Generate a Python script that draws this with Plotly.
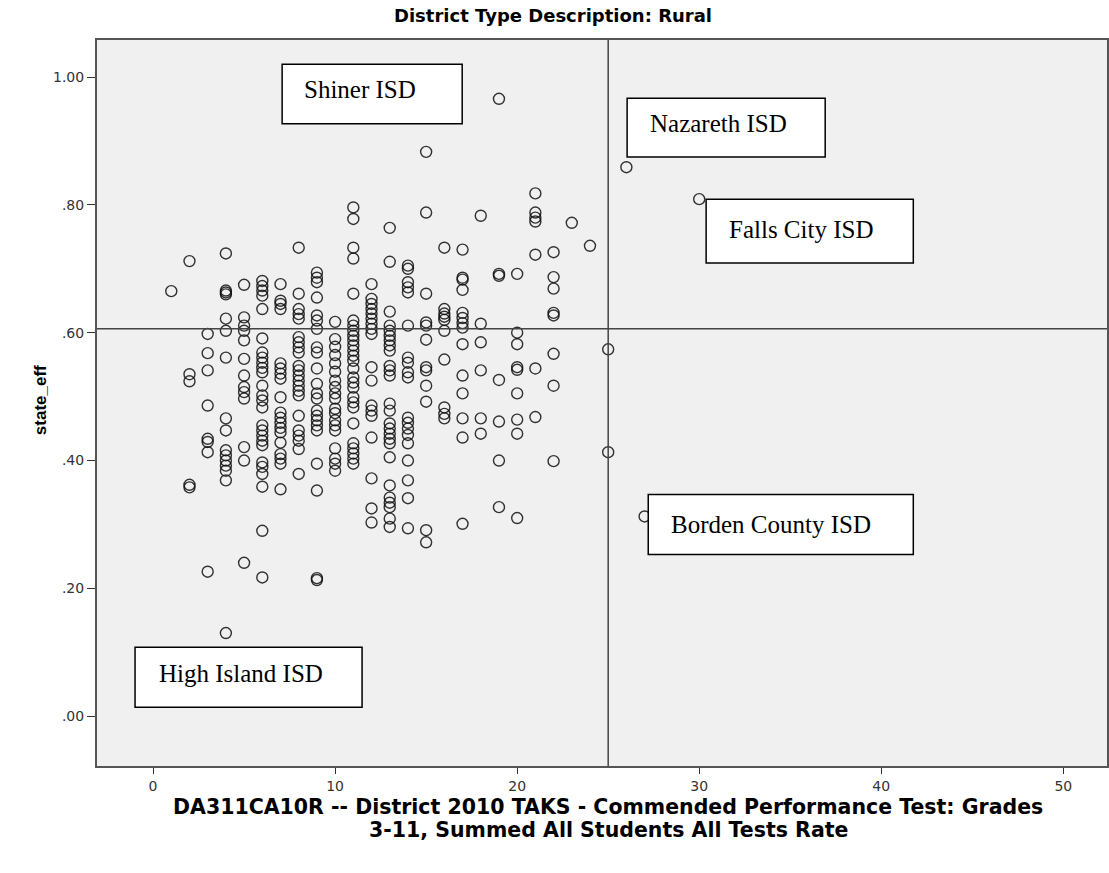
import plotly.graph_objects as go

# DA311CA10R commended rate (x) and state_eff (y), one line per x value
commended_rate = (
    [1] * 1 + [2] * 5 + [3] * 8 + [4] * 16 + [5] * 13 + [6] * 26 + [7] * 19
    + [8] * 22 + [9] * 22 + [10] * 19 + [11] * 27 + [12] * 18 + [13] * 26
    + [14] * 19 + [15] * 12 + [16] * 10 + [17] * 14 + [18] * 6 + [19] * 7
    + [20] * 9 + [21] * 7 + [22] * 8 + [23] * 1 + [24] * 1 + [25] * 2
    + [26] * 1 + [27] * 1 + [30] * 1
)
state_eff = [
    0.665,
    0.712, 0.535, 0.524, 0.362, 0.358,
    0.598, 0.568, 0.541, 0.486, 0.434, 0.429, 0.413, 0.226,
    0.724, 0.666, 0.663, 0.660, 0.622, 0.603, 0.561, 0.466, 0.447, 0.416, 0.408, 0.400, 0.392, 0.384, 0.369, 0.130,
    0.675, 0.624, 0.611, 0.603, 0.588, 0.559, 0.533, 0.515, 0.507, 0.497, 0.421, 0.400, 0.240,
    0.681, 0.673, 0.666, 0.658, 0.637, 0.591, 0.569, 0.561, 0.553, 0.545, 0.538, 0.517, 0.502, 0.494, 0.483,
    0.455, 0.447, 0.439, 0.431, 0.424, 0.397, 0.390, 0.379, 0.359, 0.290, 0.217,
    0.676, 0.650, 0.645, 0.637, 0.552, 0.544, 0.536, 0.528, 0.499, 0.475, 0.467, 0.459, 0.451, 0.444, 0.428,
    0.410, 0.403, 0.395, 0.355,
    0.733, 0.661, 0.637, 0.629, 0.622, 0.593, 0.585, 0.577, 0.569, 0.548, 0.541, 0.533, 0.525, 0.517, 0.509,
    0.502, 0.470, 0.447, 0.439, 0.431, 0.418, 0.379,
    0.694, 0.686, 0.679, 0.655, 0.627, 0.619, 0.606, 0.577, 0.569, 0.544, 0.520, 0.505, 0.497, 0.478, 0.470,
    0.463, 0.455, 0.447, 0.395, 0.353, 0.216, 0.213,
    0.617, 0.590, 0.578, 0.565, 0.552, 0.539, 0.525, 0.515, 0.505, 0.497, 0.481, 0.474, 0.463, 0.455, 0.447,
    0.419, 0.403, 0.395, 0.384,
    0.796, 0.778, 0.733, 0.716, 0.661, 0.619, 0.611, 0.603, 0.595, 0.588, 0.580, 0.572, 0.564, 0.556, 0.544,
    0.530, 0.522, 0.514, 0.499, 0.491, 0.483, 0.458, 0.427, 0.419, 0.411, 0.403, 0.395,
    0.676, 0.653, 0.645, 0.637, 0.630, 0.622, 0.614, 0.606, 0.598, 0.546, 0.525, 0.486, 0.478, 0.470, 0.436,
    0.372, 0.325, 0.303,
    0.764, 0.711, 0.633, 0.611, 0.603, 0.595, 0.588, 0.580, 0.572, 0.548, 0.541, 0.533, 0.489, 0.478, 0.458,
    0.450, 0.442, 0.434, 0.427, 0.405, 0.361, 0.342, 0.334, 0.327, 0.309, 0.296,
    0.705, 0.700, 0.679, 0.671, 0.663, 0.611, 0.561, 0.553, 0.538, 0.530, 0.467, 0.459, 0.450, 0.440, 0.427,
    0.400, 0.369, 0.341, 0.294,
    0.883, 0.788, 0.661, 0.616, 0.611, 0.589, 0.546, 0.541, 0.517, 0.492, 0.291, 0.272,
    0.733, 0.637, 0.630, 0.625, 0.620, 0.603, 0.558, 0.483, 0.473, 0.466,
    0.730, 0.686, 0.683, 0.667, 0.631, 0.623, 0.615, 0.608, 0.582, 0.533, 0.505, 0.466, 0.436, 0.301,
    0.783, 0.614, 0.585, 0.541, 0.466, 0.442,
    0.966, 0.692, 0.689, 0.526, 0.461, 0.400, 0.327,
    0.692, 0.600, 0.582, 0.546, 0.542, 0.505, 0.464, 0.442, 0.310,
    0.818, 0.788, 0.780, 0.774, 0.722, 0.544, 0.468,
    0.726, 0.687, 0.669, 0.631, 0.627, 0.567, 0.517, 0.399,
    0.772,
    0.736,
    0.574, 0.413,
    0.859,
    0.3125,
    0.809,
]

ref_x = 25
ref_y = 0.606

x_ticks = [0, 10, 20, 30, 40, 50]
y_ticks = [1.0, 0.8, 0.6, 0.4, 0.2, 0.0]
y_ticktext = ["1.00", ".80", ".60", ".40", ".20", ".00"]

district_labels = ["Shiner ISD", "Nazareth ISD", "Falls City ISD", "Borden County ISD", "High Island ISD"]

chart_title = "District Type Description: Rural"
x_title_lines = [
    "DA311CA10R -- District 2010 TAKS - Commended Performance Test: Grades",
    "3-11, Summed All Students All Tests Rate",
]
y_title = "state_eff"

# label boxes: (x0, x1, y_bottom, y_top, text_x, text_y) in data units
label_boxes = [
    (7.09, 16.98, 0.927, 1.020, 8.2, 0.980),
    (26.04, 36.92, 0.875, 0.967, 27.2, 0.928),
    (30.38, 41.76, 0.709, 0.809, 31.5, 0.762),
    (27.20, 41.76, 0.253, 0.347, 28.35, 0.300),
    (-0.99, 11.48, 0.014, 0.108, 0.22, 0.067),
]

fig = go.Figure()
fig.add_trace(
    go.Scatter(
        x=commended_rate,
        y=state_eff,
        mode="markers",
        marker=dict(
            symbol="circle-open",
            size=11,
            color="rgba(15,15,15,0.85)",
            line=dict(width=1.4, color="rgba(15,15,15,0.85)"),
        ),
        showlegend=False,
        hoverinfo="x+y",
    )
)

fig.add_shape(type="line", xref="x", yref="paper", x0=ref_x, x1=ref_x, y0=0, y1=1,
              line=dict(color="#444", width=1.5))
fig.add_shape(type="line", xref="paper", yref="y", x0=0, x1=1, y0=ref_y, y1=ref_y,
              line=dict(color="#444", width=1.5))

for name, (x0, x1, y0, y1, tx, ty) in zip(district_labels, label_boxes):
    fig.add_shape(type="rect", xref="x", yref="y", x0=x0, x1=x1, y0=y0, y1=y1,
                  line=dict(color="black", width=1.5), fillcolor="white", layer="above")
    fig.add_annotation(x=tx, y=ty, xref="x", yref="y", text=name, showarrow=False,
                       xanchor="left", yanchor="middle",
                       font=dict(family="Liberation Serif", size=25, color="black"))

# titles as free text so that their placement matches the original
fig.add_annotation(x=0.4515, y=1.0344, xref="paper", yref="paper", text="<b>" + chart_title + "</b>",
                   showarrow=False, xanchor="center", yanchor="middle",
                   font=dict(family="DejaVu Sans", size=18, color="black"))
for i, line in enumerate(x_title_lines):
    fig.add_annotation(x=0.506, y=-0.0565 - 0.0317 * i, xref="paper", yref="paper",
                       text="<b>" + line + "</b>", showarrow=False,
                       xanchor="center", yanchor="middle",
                       font=dict(family="DejaVu Sans", size=20.5, color="black"))
fig.add_annotation(x=-0.0564, y=0.504, xref="paper", yref="paper", text="<b>" + y_title + "</b>",
                   showarrow=False, textangle=-90, xanchor="center", yanchor="middle",
                   font=dict(family="Liberation Sans", size=17, color="black"))

axis_style = dict(
    ticks="outside",
    ticklen=8,
    tickwidth=1.2,
    tickcolor="#333",
    showgrid=False,
    zeroline=False,
    showline=True,
    mirror=True,
    linecolor="#555",
    linewidth=2,
    automargin=False,
    tickfont=dict(family="DejaVu Sans", size=14, color="#333"),
)
fig.update_xaxes(range=[-3.08, 52.4], tickvals=x_ticks, ticklen=6, **{k: v for k, v in axis_style.items() if k != "ticklen"})
fig.update_yaxes(range=[-0.078, 1.058], tickvals=y_ticks, ticktext=y_ticktext, **axis_style)

fig.update_layout(
    width=1109,
    height=873,
    margin=dict(l=97, r=2, t=40, b=107),
    plot_bgcolor="#f0f0f0",
    paper_bgcolor="white",
)

# drop the default body margin so the figure fills the window exactly
fig.write_html(
    "out.html",
    config={"displayModeBar": False},
    post_script="document.body.style.margin='0';",
)
